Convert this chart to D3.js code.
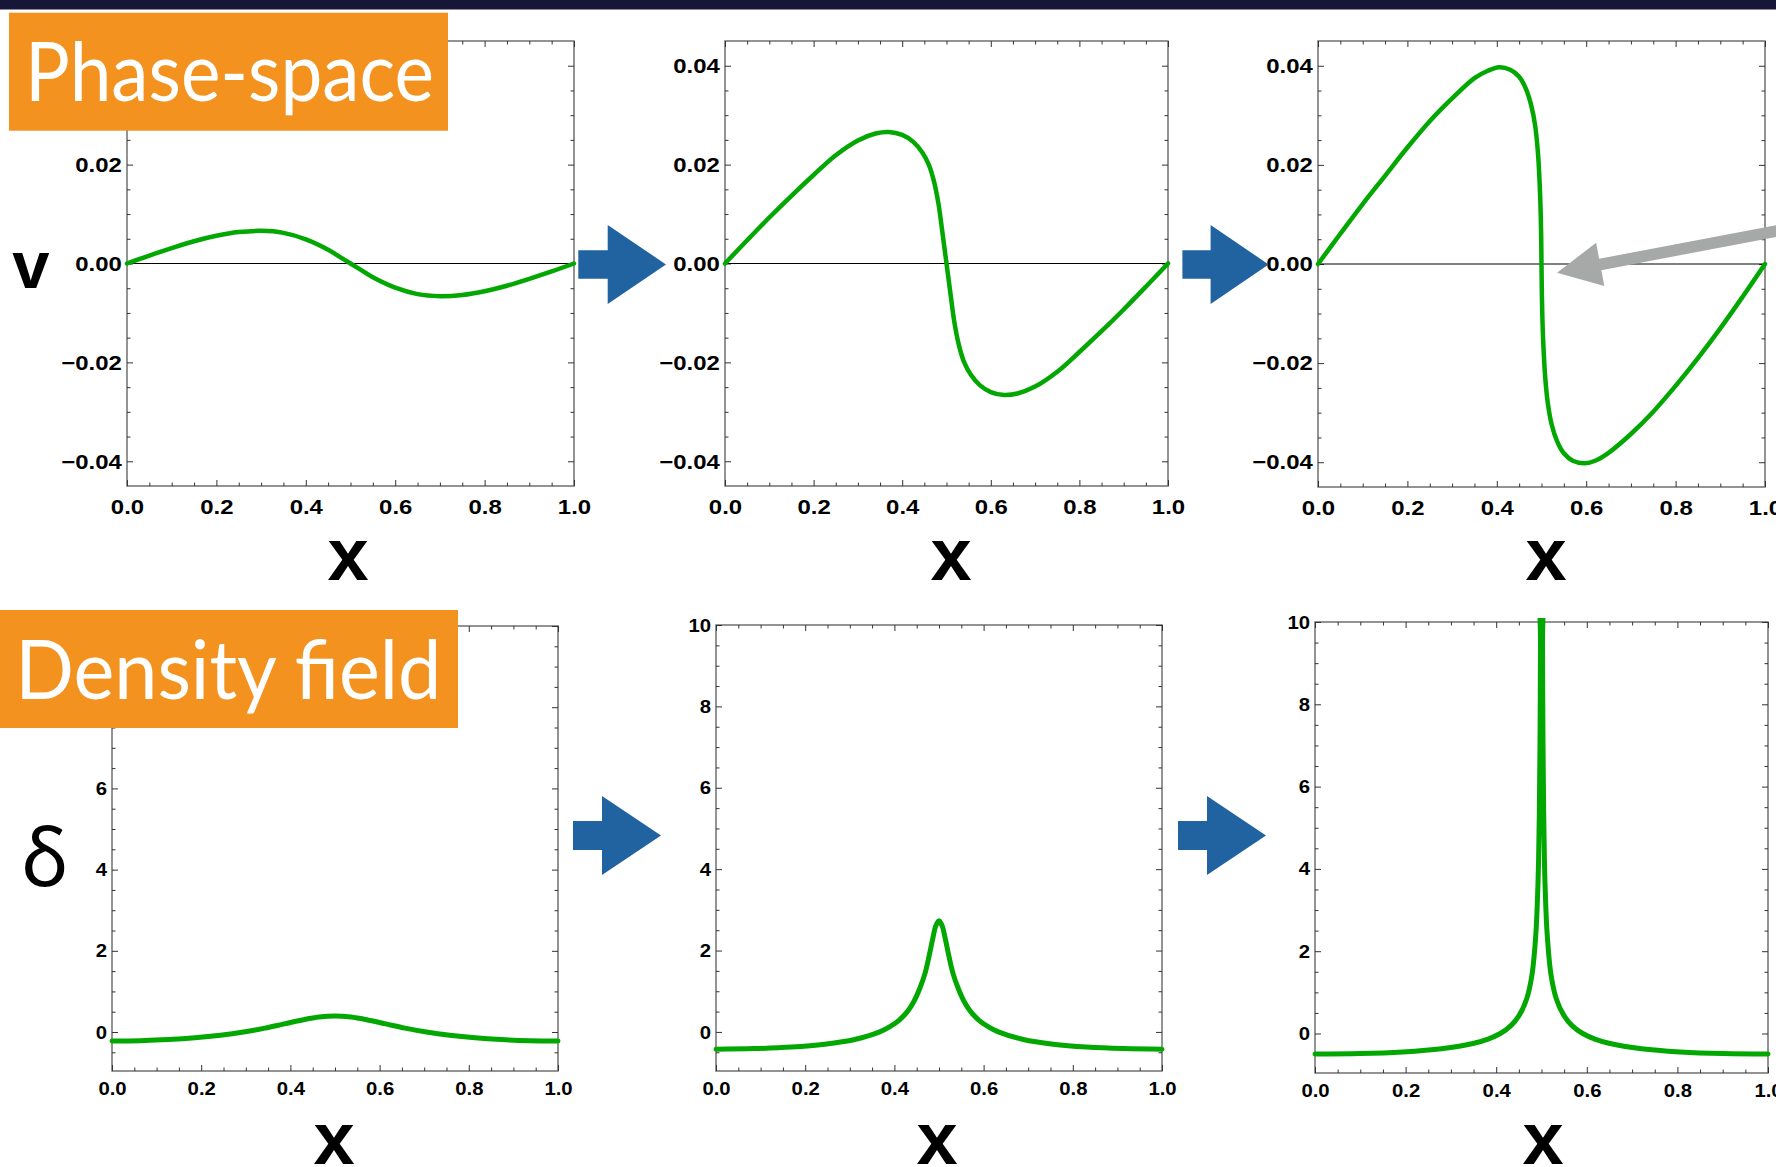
<!DOCTYPE html>
<html>
<head>
<meta charset="utf-8">
<script src="https://cdn.jsdelivr.net/npm/d3@7"></script>
<style>
  html, body { margin: 0; padding: 0; background: #ffffff; }
  svg { display: block; }
</style>
</head>
<body>
<svg id="slide" width="1776" height="1167"></svg>
<script>
// ---------------- tick labels ----------------
const xTickValues = [0, 0.2, 0.4, 0.6, 0.8, 1.0];
const velocityTickValues = [-0.04, -0.02, 0, 0.02, 0.04];
const densityTickValues = [0, 2, 4, 6, 8, 10];

// ---------------- phase-space: velocity v against position x ----------------
const phaseX1 = [0, 0.05, 0.10, 0.15, 0.20, 0.25, 0.30, 0.35, 0.40, 0.45, 0.475, 0.50,
                 0.525, 0.55, 0.60, 0.65, 0.70, 0.75, 0.80, 0.85, 0.90, 0.95, 1.00];
const phaseV1 = [0, 0.0016, 0.0031, 0.0045, 0.0056, 0.00635, 0.0066, 0.0062, 0.0049, 0.0028, 0.0014, 0,
                 -0.0014, -0.0028, -0.0049, -0.0062, -0.0066, -0.00635, -0.0056, -0.0045, -0.0031, -0.0016, 0];

const phaseX2 = [0, 0.05, 0.10, 0.15, 0.20, 0.25, 0.30, 0.34, 0.37, 0.40, 0.425, 0.445, 0.46, 0.472, 0.482, 0.490, 0.50,
                 0.510, 0.518, 0.528, 0.540, 0.555, 0.575, 0.60, 0.63, 0.66, 0.70, 0.75, 0.80, 0.85, 0.90, 0.95, 1.0];
const phaseV2 = [0, 0.0047, 0.0093, 0.0137, 0.0179, 0.0219, 0.0249, 0.0263, 0.0266, 0.0260, 0.0246, 0.0225, 0.0200, 0.0165, 0.0120, 0.0068, 0,
                 -0.0068, -0.0120, -0.0165, -0.0200, -0.0225, -0.0246, -0.0260, -0.0266, -0.0263, -0.0249, -0.0219, -0.0179, -0.0137, -0.0093, -0.0047, 0];

const phaseX3 = [0, 0.05, 0.10, 0.15, 0.20, 0.25, 0.30, 0.35, 0.38, 0.405, 0.43, 0.45, 0.465, 0.477, 0.486, 0.492, 0.4955, 0.4978, 0.4992, 0.5,
                 0.5008, 0.5022, 0.5045, 0.508, 0.514, 0.523, 0.535, 0.55, 0.57, 0.597, 0.62, 0.65, 0.70, 0.75, 0.80, 0.85, 0.90, 0.95, 1.0];
const phaseV3 = [0, 0.0061, 0.0121, 0.0178, 0.0235, 0.0288, 0.0334, 0.0375, 0.0390, 0.0397, 0.0392, 0.0378, 0.0354, 0.0320, 0.0278, 0.0225, 0.0170, 0.0115, 0.0060, 0,
                 -0.0060, -0.0115, -0.0170, -0.0225, -0.0280, -0.0325, -0.0358, -0.0382, -0.0397, -0.0402, -0.0397, -0.0381, -0.0343, -0.0298, -0.0246, -0.0190, -0.0130, -0.0066, 0];

// ---------------- density contrast delta against position x ----------------
const densX1 = [0, 0.064, 0.127, 0.186, 0.243, 0.295, 0.343, 0.386, 0.427, 0.464, 0.5,
                0.536, 0.573, 0.614, 0.657, 0.705, 0.757, 0.814, 0.873, 0.936, 1.0];
const densD1 = [-0.221, -0.212, -0.186, -0.143, -0.080, 0, 0.096, 0.200, 0.297, 0.368, 0.395,
                0.368, 0.297, 0.200, 0.096, 0, -0.080, -0.143, -0.186, -0.212, -0.221];

const densX2 = [0, 0.086, 0.169, 0.244, 0.311, 0.367, 0.390, 0.411, 0.429, 0.444, 0.457, 0.469, 0.478, 0.486, 0.493, 0.5,
                0.507, 0.514, 0.522, 0.531, 0.543, 0.556, 0.571, 0.589, 0.610, 0.633, 0.689, 0.756, 0.831, 0.914, 1.0];
const densD2 = [-0.423, -0.410, -0.372, -0.301, -0.185, 0, 0.129, 0.292, 0.498, 0.755, 1.073, 1.452, 1.875, 2.292, 2.61, 2.73,
                2.61, 2.292, 1.875, 1.452, 1.073, 0.755, 0.498, 0.292, 0.129, 0, -0.185, -0.301, -0.372, -0.410, -0.423];

const densX3 = [0, 0.099, 0.194, 0.279, 0.351, 0.382, 0.409, 0.432, 0.451, 0.467, 0.479, 0.4875, 0.4914, 0.4936, 0.4953, 0.4967, 0.4978, 0.4982,
                0.5018, 0.5022, 0.5033, 0.5047, 0.5064, 0.5086, 0.5125, 0.521, 0.533, 0.549, 0.568, 0.591, 0.618, 0.649, 0.721, 0.806, 0.901, 1.0];
const densD3 = [-0.500, -0.488, -0.447, -0.370, -0.236, -0.135, 0, 0.185, 0.447, 0.832, 1.426, 2.414, 3.357, 4.236, 5.42, 7.08, 9.50, 11.2,
                11.2, 9.50, 7.08, 5.42, 4.236, 3.357, 2.414, 1.426, 0.832, 0.447, 0.185, 0, -0.135, -0.236, -0.370, -0.447, -0.488, -0.500];

// ---------------- layout and style ----------------
const GREEN = '#02a702';
const BLUE = '#2163a1';
const ORANGE = '#f3921f';
const GREY_ARROW = '#a6a9a7';
const FRAME = '#666666';
const TICK = '#333333';
const LABEL_FONT = "'Liberation Sans', Arial, Helvetica, sans-serif";

const svg = d3.select('#slide');

// dark strip along the top edge of the slide
svg.append('rect').attr('x', 0).attr('y', 0).attr('width', 1776).attr('height', 9.5).attr('fill', '#161737');

// orange section tags (drawn last, on top of the first column of plots)
const tags = [
  { text: 'Phase-space', box: [9, 12.7, 439, 118], tx: 25, base: 100.7, w: 409 },
  { text: 'Density field', box: [0, 610, 458, 118], tx: 15.3, base: 698.6, w: 426 }
];
const underTag = (px, py) => tags.some(tg => px >= tg.box[0] && px <= tg.box[0] + tg.box[2] &&
                                             py >= tg.box[1] && py <= tg.box[1] + tg.box[3]);

const panels = [
  { id: 'v1', kind: 'v', frame: { l: 127, r: 574, t: 41, b: 486 }, xs: phaseX1, ys: phaseV1 },
  { id: 'v2', kind: 'v', frame: { l: 725, r: 1168, t: 41, b: 486 }, xs: phaseX2, ys: phaseV2 },
  { id: 'v3', kind: 'v', frame: { l: 1318, r: 1765, t: 41, b: 487 }, xs: phaseX3, ys: phaseV3 },
  { id: 'd1', kind: 'd', frame: { l: 112, r: 558, t: 626, b: 1071 }, xs: densX1, ys: densD1 },
  { id: 'd2', kind: 'd', frame: { l: 716, r: 1162, t: 625, b: 1071 }, xs: densX2, ys: densD2 },
  { id: 'd3', kind: 'd', frame: { l: 1315, r: 1768, t: 622, b: 1073 }, xs: densX3, ys: densD3 }
];

const xMinor = d3.range(0, 21).filter(i => i % 4 !== 0).map(i => i * 0.05);
const vMinor = d3.range(-8, 9).filter(i => i % 4 !== 0).map(i => i * 0.005);
const dMinor = d3.range(-1, 21).filter(i => i % 4 !== 0).map(i => i * 0.5);

const fmtV = d => d === 0 ? '0.00' : (d < 0 ? '\u2212' : '') + Math.abs(d).toFixed(2);

function styleAxis(sel, fontSize, stretch) {
  sel.select('.domain').remove();
  sel.attr('font-family', LABEL_FONT).attr('font-size', fontSize).attr('font-weight', 'bold');
  sel.selectAll('.tick line').attr('stroke', TICK).attr('stroke-width', 1);
  sel.selectAll('.tick text').attr('fill', '#000').attr('transform', `scale(${stretch},1)`);
}

function drawPanel(p) {
  const { l, r, t, b } = p.frame;
  const isV = p.kind === 'v';
  const x = d3.scaleLinear().domain([0, 1]).range([l, r]);
  const y = d3.scaleLinear().domain(isV ? [-0.045, 0.045] : [-0.96, 10]).range([b, t]);
  const majorY = isV ? velocityTickValues : densityTickValues;
  const minorY = isV ? vMinor : dMinor;
  // labels of the left axis that sit beneath an orange tag are not shown
  const visibleY = majorY.filter(v => !underTag(l - 20, y(v)));
  const fs = isV ? 21 : 19;
  const stretch = isV ? 1.14 : 1.07;
  const g = svg.append('g').attr('class', 'panel-' + p.id);

  // frame
  g.append('rect').attr('x', l).attr('y', t).attr('width', r - l).attr('height', b - t)
    .attr('fill', 'none').attr('stroke', FRAME).attr('stroke-width', 1.4);

  // bottom: labelled major ticks + minor ticks
  g.append('g').attr('transform', `translate(0,${b})`)
    .call(d3.axisBottom(x).tickValues(xTickValues).tickSize(-6).tickPadding(isV ? 13.2 : 10.5).tickFormat(d3.format('.1f')))
    .call(s => styleAxis(s, fs, stretch));
  g.append('g').attr('transform', `translate(0,${b})`)
    .call(d3.axisBottom(x).tickValues(xMinor).tickSize(-3.5).tickFormat(''))
    .call(s => styleAxis(s, fs, 1));
  // top: mirrored ticks
  g.append('g').attr('transform', `translate(0,${t})`)
    .call(d3.axisTop(x).tickValues(xTickValues).tickSize(-6).tickFormat(''))
    .call(s => styleAxis(s, fs, 1));
  g.append('g').attr('transform', `translate(0,${t})`)
    .call(d3.axisTop(x).tickValues(xMinor).tickSize(-3.5).tickFormat(''))
    .call(s => styleAxis(s, fs, 1));
  // left: labelled major ticks + minor ticks
  g.append('g').attr('transform', `translate(${l},0)`)
    .call(d3.axisLeft(y).tickValues(majorY).tickSize(-6).tickFormat(''))
    .call(s => styleAxis(s, fs, 1));
  g.append('g').attr('transform', `translate(${l},0)`)
    .call(d3.axisLeft(y).tickValues(visibleY).tickSize(0).tickPadding(4.6).tickFormat(isV ? fmtV : d3.format('d')))
    .call(s => styleAxis(s, fs, stretch));
  g.append('g').attr('transform', `translate(${l},0)`)
    .call(d3.axisLeft(y).tickValues(minorY).tickSize(-3.5).tickFormat(''))
    .call(s => styleAxis(s, fs, 1));
  // right: mirrored ticks
  g.append('g').attr('transform', `translate(${r},0)`)
    .call(d3.axisRight(y).tickValues(majorY).tickSize(-6).tickFormat(''))
    .call(s => styleAxis(s, fs, 1));
  g.append('g').attr('transform', `translate(${r},0)`)
    .call(d3.axisRight(y).tickValues(minorY).tickSize(-3.5).tickFormat(''))
    .call(s => styleAxis(s, fs, 1));

  // horizontal axis through v = 0
  if (isV) {
    g.append('line').attr('x1', x(0)).attr('x2', x(1)).attr('y1', y(0)).attr('y2', y(0))
      .attr('stroke', '#000').attr('stroke-width', 1.1);
  }

  // curve, clipped to the plot range
  const clipId = 'clip-' + p.id;
  svg.append('clipPath').attr('id', clipId).append('rect')
    .attr('x', l - 3).attr('y', t - 4).attr('width', r - l + 6).attr('height', b - t + 7);
  const line = d3.line().x(d => x(d[0])).y(d => y(d[1])).curve(d3.curveCatmullRom.alpha(0.5));
  g.append('path').datum(d3.zip(p.xs, p.ys))
    .attr('clip-path', `url(#${clipId})`)
    .attr('d', line)
    .attr('fill', 'none').attr('stroke', GREEN)
    .attr('stroke-width', isV ? 4.5 : 5)
    .attr('stroke-linejoin', 'round').attr('stroke-linecap', 'round');
}

panels.forEach(drawPanel);

// axis titles
const titles = svg.append('g').attr('font-family', LABEL_FONT).attr('font-weight', 'bold').attr('fill', '#000')
  .attr('text-anchor', 'middle');
titles.append('text').attr('x', 31).attr('y', 287.5).attr('font-size', 67).text('v');
[[348, 580], [951, 580], [1546, 580], [334, 1164], [937, 1164], [1543, 1164]].forEach(([cx, by]) => {
  titles.append('text').attr('x', cx).attr('y', by).attr('font-size', 74).text('x');
});
svg.append('text').attr('x', 45).attr('y', 886).attr('text-anchor', 'middle')
  .attr('font-family', "'Noto Sans', 'DejaVu Sans', sans-serif").attr('font-size', 80).attr('fill', '#000')
  .text('\u03b4');

// block arrows pointing from one epoch to the next
function blockArrow(shaftLeft, headBase, tip, cy, shaftHalf, headHalf) {
  const pts = [[shaftLeft, cy - shaftHalf], [headBase, cy - shaftHalf], [headBase, cy - headHalf], [tip, cy],
               [headBase, cy + headHalf], [headBase, cy + shaftHalf], [shaftLeft, cy + shaftHalf]];
  svg.append('path').attr('d', 'M' + pts.map(q => q.join(',')).join('L') + 'Z').attr('fill', BLUE);
}
blockArrow(578.3, 607.7, 666, 264.5, 14.2, 39.6);
blockArrow(1182.4, 1210.6, 1268.6, 264.5, 14.2, 39.6);
blockArrow(573, 602, 661, 835.5, 14.5, 39.5);
blockArrow(1178, 1207, 1266, 835.5, 14.5, 39.5);

// grey pointer aimed at the shell-crossing point
(function () {
  const tip = [1557, 272.7];
  const dx = 219.3, dy = -41.7, len = Math.hypot(dx, dy);
  const u = [dx / len, dy / len], n = [-u[1], u[0]];
  const headLen = 44, headHalf = 22, shaftHalf = 5.8, tailLen = 280;
  const at = (dist, off) => [tip[0] + u[0] * dist + n[0] * off, tip[1] + u[1] * dist + n[1] * off];
  const pts = [tip, at(headLen, -headHalf), at(headLen, -shaftHalf), at(tailLen, -shaftHalf),
               at(tailLen, shaftHalf), at(headLen, shaftHalf), at(headLen, headHalf)];
  svg.append('path').attr('d', 'M' + pts.map(q => q.join(',')).join('L') + 'Z').attr('fill', GREY_ARROW);
})();

// orange section tags
tags.forEach(tg => {
  svg.append('rect').attr('x', tg.box[0]).attr('y', tg.box[1]).attr('width', tg.box[2]).attr('height', tg.box[3])
    .attr('fill', ORANGE);
  svg.append('text').attr('x', tg.tx).attr('y', tg.base)
    .attr('font-family', "Lato, 'Open Sans', sans-serif").attr('font-size', 81).attr('fill', '#ffffff')
    .attr('textLength', tg.w).attr('lengthAdjust', 'spacingAndGlyphs')
    .text(tg.text);
});
</script>
</body>
</html>
